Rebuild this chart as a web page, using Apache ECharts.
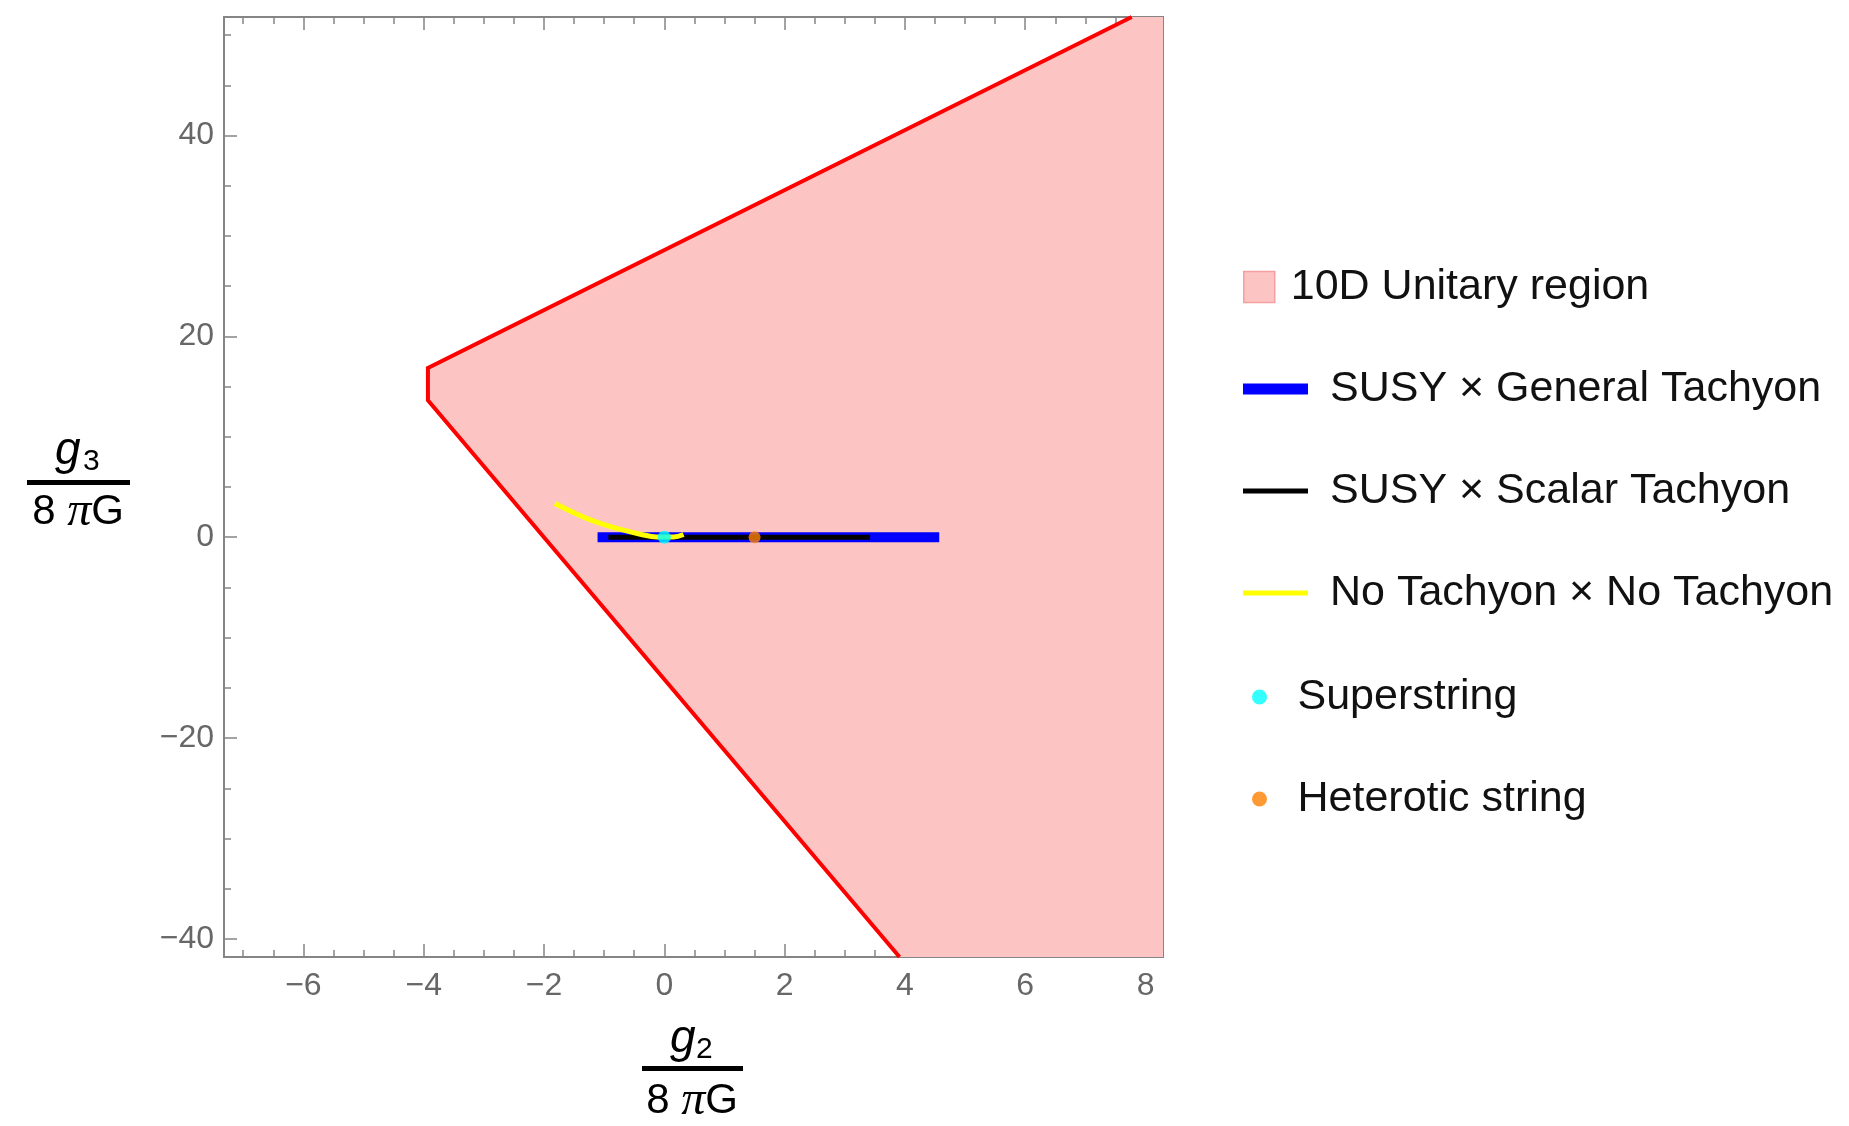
<!DOCTYPE html>
<html>
<head>
<meta charset="utf-8">
<script src="https://cdn.jsdelivr.net/npm/echarts@6/dist/echarts.min.js"></script>
<style>
html,body{margin:0;padding:0;background:#ffffff;}
#chart{width:1849px;height:1126px;}
</style>
</head>
<body>
<div id="chart"></div>
<script>
// ---------------- data ----------------
const xRange = [-7.32, 8.29];
const yRange = [-41.8, 51.8];

const xMajorTicks = [-6, -4, -2, 0, 2, 4, 6, 8];
const xTickLabels = ['\u22126', '\u22124', '\u22122', '0', '2', '4', '6', '8'];
const xMinorTicks = [-7, -6.5, -5.5, -5, -4.5, -3.5, -3, -2.5, -1.5, -1, -0.5, 0.5, 1, 1.5, 2.5, 3, 3.5, 4.5, 5, 5.5, 6.5, 7, 7.5];
const yMajorTicks = [-40, -20, 0, 20, 40];
const yTickLabels = ['\u221240', '\u221220', '0', '20', '40'];
const yMinorTicks = [-35, -30, -25, -15, -10, -5, 5, 10, 15, 25, 30, 35, 45, 50];

// unitary region (filled polygon) and its red boundary
const regionX = [7.77, -3.93, -3.93, 3.91, 8.29, 8.29];
const regionY = [51.8, 16.86, 13.63, -41.8, -41.8, 51.8];
const boundaryX = [7.77, -3.93, -3.93, 3.91];
const boundaryY = [51.8, 16.86, 13.63, -41.8];

// SUSY x General Tachyon
const generalTachyonX = [-1.11, 4.57];
const generalTachyonY = [0, 0];
// SUSY x Scalar Tachyon
const scalarTachyonX = [-0.93, 3.42];
const scalarTachyonY = [0, 0];
// No Tachyon x No Tachyon
const noTachyonX = [-1.82, -1.51, -1.24, -0.96, -0.68, -0.40, -0.13, 0.15, 0.32];
const noTachyonY = [3.35, 2.45, 1.75, 1.19, 0.70, 0.30, 0.03, 0.03, 0.27];
// points
const superstringPt = [0, 0];
const heteroticPt = [1.5, 0];

const legendNames = ['10D Unitary region', 'SUSY \u00d7 General Tachyon', 'SUSY \u00d7 Scalar Tachyon', 'No Tachyon \u00d7 No Tachyon', 'Superstring', 'Heterotic string'];

// ---------------- helpers ----------------
const pairs = (xs, ys) => xs.map((x, i) => [x, ys[i]]);
const FONT = 'Liberation Sans, Arial, sans-serif';
const frameColor = '#858585';
const tickLabelColor = '#676767';

function mkAxis(range, pos, ticks, len, labels, margin) {
  return {
    type: 'value', min: range[0], max: range[1], position: pos,
    axisLine: { show: true, onZero: false, lineStyle: { color: frameColor, width: 2 } },
    axisTick: { show: true, inside: true, length: len, customValues: ticks, lineStyle: { color: frameColor, width: 1.5 } },
    axisLabel: labels ? {
      show: true, customValues: ticks, margin: margin,
      formatter: v => { const i = ticks.findIndex(t => Math.abs(t - v) < 1e-9); return i >= 0 ? labels[i] : ''; },
      color: tickLabelColor, fontSize: 32, fontFamily: FONT
    } : { show: false },
    splitLine: { show: false }, minorTick: { show: false }, minorSplitLine: { show: false },
    axisPointer: { show: false }
  };
}

const chart = echarts.init(document.getElementById('chart'), null, { renderer: 'canvas' });

const legendRows = [
  { name: legendNames[0], left: 1243, cy: 287, w: 31, h: 31, pad: 11, icon: 'rect', style: { color: '#fdc4c4', borderColor: '#f5a0a0', borderWidth: 1.5 } },
  { name: legendNames[1], left: 1243, cy: 389, w: 65, h: 11, pad: 17, icon: 'rect', style: { color: '#0000ff', borderWidth: 0 } },
  { name: legendNames[2], left: 1243, cy: 491, w: 65, h: 5, pad: 17, icon: 'rect', style: { color: '#000000', borderWidth: 0 } },
  { name: legendNames[3], left: 1243, cy: 593, w: 65, h: 5, pad: 17, icon: 'rect', style: { color: '#ffff00', borderWidth: 0 } },
  { name: legendNames[4], left: 1252, cy: 697, w: 32, h: 15, pad: 17, icon: 'circle', style: { color: '#00ffff', borderWidth: 0 } },
  { name: legendNames[5], left: 1252, cy: 799, w: 32, h: 15, pad: 17, icon: 'circle', style: { color: '#ff8000', borderWidth: 0 } }
];

const legends = legendRows.map(r => ({
  show: true, orient: 'horizontal', left: r.left, top: r.cy - 24, padding: 0, itemGap: 0,
  itemWidth: r.w, itemHeight: r.h, selectedMode: false,
  data: [{ name: r.name, icon: r.icon, itemStyle: r.style }],
  textStyle: { fontSize: 43, color: '#111111', fontFamily: FONT, lineHeight: 48, padding: [0, 0, 0, r.pad] }
}));

const fracRich = { p: { fontStyle: 'italic', fontFamily: 'Liberation Serif', fontSize: 48 } };

const option = {
  backgroundColor: '#ffffff',
  animation: false,
  grid: { left: 224, top: 17, width: 939, height: 940, containLabel: false, outerBoundsMode: 'none' },
  xAxis: [
    mkAxis(xRange, 'bottom', xMajorTicks, 13, xTickLabels, 13),
    mkAxis(xRange, 'bottom', xMinorTicks, 7, null),
    mkAxis(xRange, 'top', xMajorTicks, 13, null),
    mkAxis(xRange, 'top', xMinorTicks, 7, null)
  ],
  yAxis: [
    mkAxis(yRange, 'left', yMajorTicks, 13, yTickLabels, 10),
    mkAxis(yRange, 'left', yMinorTicks, 7, null),
    mkAxis(yRange, 'right', yMajorTicks, 13, null),
    mkAxis(yRange, 'right', yMinorTicks, 7, null)
  ],
  legend: legends,
  series: [
    {
      type: 'custom', name: legendNames[0], xAxisIndex: 0, yAxisIndex: 0, silent: true, z: 1,
      itemStyle: { color: '#fdc4c4' },
      data: pairs(regionX, regionY),
      renderItem: (params, api) => {
        if (params.dataIndex !== 0) return null;
        const pts = regionX.map((x, i) => api.coord([x, regionY[i]]));
        return { type: 'polygon', shape: { points: pts }, style: { fill: '#fdc4c4' } };
      }
    },
    {
      type: 'line', name: 'Unitary boundary', xAxisIndex: 0, yAxisIndex: 0, silent: true, z: 3,
      data: pairs(boundaryX, boundaryY), symbol: 'none',
      lineStyle: { color: '#ff0000', width: 4, join: 'miter' }, itemStyle: { color: '#ff0000' }
    },
    {
      type: 'line', name: legendNames[1], xAxisIndex: 0, yAxisIndex: 0, silent: true, z: 4,
      data: pairs(generalTachyonX, generalTachyonY), symbol: 'none',
      lineStyle: { color: '#0000ff', width: 10, cap: 'butt' }, itemStyle: { color: '#0000ff' }
    },
    {
      type: 'line', name: legendNames[2], xAxisIndex: 0, yAxisIndex: 0, silent: true, z: 5,
      data: pairs(scalarTachyonX, scalarTachyonY), symbol: 'none',
      lineStyle: { color: '#000000', width: 5, cap: 'butt' }, itemStyle: { color: '#000000' }
    },
    {
      type: 'line', name: legendNames[3], xAxisIndex: 0, yAxisIndex: 0, silent: true, z: 6,
      data: pairs(noTachyonX, noTachyonY), symbol: 'none', smooth: 0.4,
      lineStyle: { color: '#ffff00', width: 5, cap: 'butt' }, itemStyle: { color: '#ffff00' }
    },
    {
      type: 'scatter', name: legendNames[4], xAxisIndex: 0, yAxisIndex: 0, silent: true, z: 7,
      data: [superstringPt], symbol: 'circle', symbolSize: 13, itemStyle: { color: '#00ffff' }
    },
    {
      type: 'scatter', name: legendNames[5], xAxisIndex: 0, yAxisIndex: 0, silent: true, z: 7,
      data: [heteroticPt], symbol: 'circle', symbolSize: 12, itemStyle: { color: '#ff8000' }
    }
  ],
  graphic: [
    // y-axis title: g3 / 8 pi G
    { type: 'text', x: 55, y: 451, style: { text: 'g', font: 'italic 46px Liberation Sans', fill: '#000', textAlign: 'left', textVerticalAlign: 'middle' } },
    { type: 'text', x: 83, y: 462, style: { text: '3', font: '30px Liberation Sans', fill: '#000', textAlign: 'left', textVerticalAlign: 'middle' } },
    { type: 'rect', shape: { x: 27, y: 480, width: 103, height: 5 }, style: { fill: '#000' } },
    { type: 'text', x: 78, y: 512, style: { text: '8 {p|\u03c0}G', font: '42px Liberation Sans', fill: '#000', textAlign: 'center', textVerticalAlign: 'middle', rich: fracRich } },
    // x-axis title: g2 / 8 pi G
    { type: 'text', x: 670, y: 1039, style: { text: 'g', font: 'italic 46px Liberation Sans', fill: '#000', textAlign: 'left', textVerticalAlign: 'middle' } },
    { type: 'text', x: 696, y: 1050, style: { text: '2', font: '30px Liberation Sans', fill: '#000', textAlign: 'left', textVerticalAlign: 'middle' } },
    { type: 'rect', shape: { x: 642, y: 1066, width: 101, height: 5 }, style: { fill: '#000' } },
    { type: 'text', x: 692, y: 1101, style: { text: '8 {p|\u03c0}G', font: '42px Liberation Sans', fill: '#000', textAlign: 'center', textVerticalAlign: 'middle', rich: fracRich } }
  ]
};

chart.setOption(option);
</script>
</body>
</html>
